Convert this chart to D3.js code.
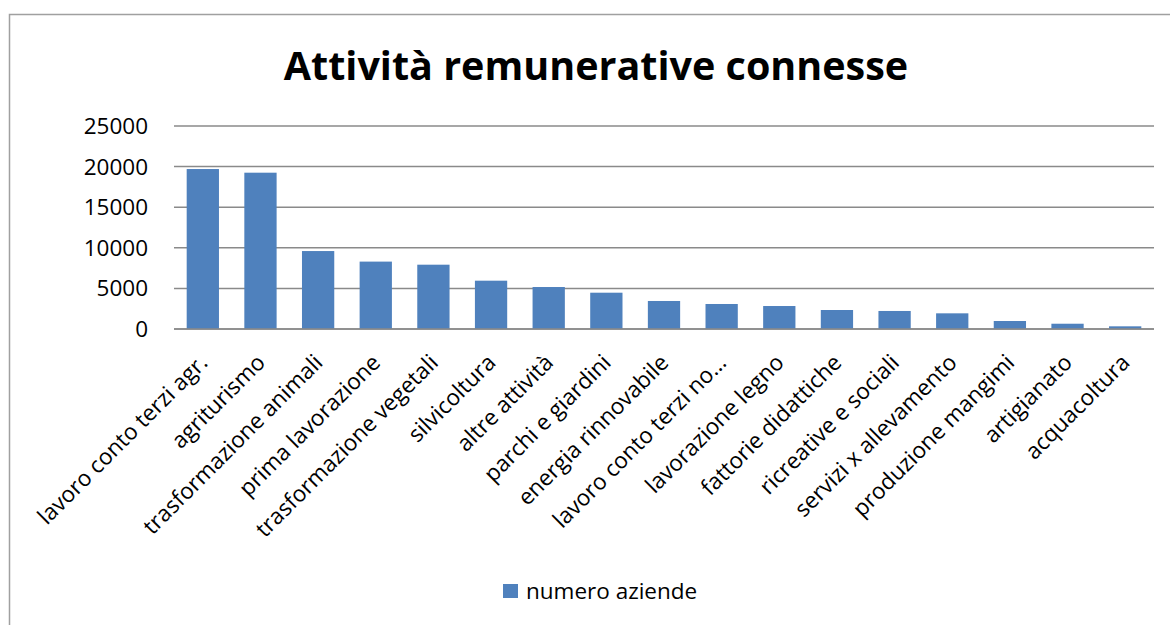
<!DOCTYPE html>
<html>
<head>
<meta charset="utf-8">
<script src="https://cdn.jsdelivr.net/npm/d3@7"></script>
<style>
  body { margin: 0; background: #fff; }
  svg { display: block; font-family: 'Open Sans', sans-serif; }
</style>
</head>
<body>
<div id="root"></div>
<script>
const categories = ['lavoro conto terzi agr.', 'agriturismo', 'trasformazione animali', 'prima lavorazione',
  'trasformazione vegetali', 'silvicoltura', 'altre attività', 'parchi e giardini', 'energia rinnovabile',
  'lavoro conto terzi no…', 'lavorazione legno', 'fattorie didattiche', 'ricreative e sociali',
  'servizi x allevamento', 'produzione mangimi', 'artigianato', 'acquacoltura'];
const values = [19700, 19250, 9600, 8300, 7920, 5950, 5170, 4470, 3450, 3080, 2830, 2340, 2220, 1930, 985, 650, 330];
const yTicks = [0, 5000, 10000, 15000, 20000, 25000];
const seriesName = 'numero aziende';
const title = 'Attività remunerative connesse';

const width = 1170, height = 625;
const plot = {left: 174, right: 1154, top: 126, bottom: 329};
const barColor = '#4f81bd';
const gridColor = '#8a8a8a';

const svg = d3.select('#root').append('svg')
              .attr('width', width)
              .attr('height', height);

// chart frame (runs off the right and bottom edges)
svg.append('rect')
   .attr('x', 9.5).attr('y', 14.5)
   .attr('width', 1170).attr('height', 700)
   .attr('fill', '#fff')
   .attr('stroke', '#a0a0a0')
   .attr('stroke-width', 1.5);

svg.append('text')
   .text(title)
   .attr('x', 596)
   .attr('y', 80)
   .attr('text-anchor', 'middle')
   .style('font-size', '39.5px')
   .style('font-weight', 700)
   .attr('fill', '#000');

const x = d3.scaleBand()
            .domain(categories)
            .range([plot.left, plot.right])
            .paddingInner(0.44)
            .paddingOuter(0.22);

const y = d3.scaleLinear()
            .domain([0, 25000])
            .range([plot.bottom, plot.top]);

// gridlines
svg.append('g')
   .selectAll('line')
   .data(yTicks).enter()
   .append('line')
   .attr('x1', plot.left).attr('x2', plot.right)
   .attr('y1', d => y(d)).attr('y2', d => y(d))
   .attr('stroke', gridColor)
   .attr('stroke-width', 1.5);

// y labels
svg.append('g')
   .selectAll('text')
   .data(yTicks).enter()
   .append('text')
   .text(d => d)
   .attr('x', 148)
   .attr('y', d => y(d) + 8)
   .attr('text-anchor', 'end')
   .style('font-size', '22.5px')
   .attr('fill', '#000');

// bars
svg.append('g')
   .selectAll('rect')
   .data(values).enter()
   .append('rect')
   .attr('x', (d, i) => x(categories[i]))
   .attr('width', x.bandwidth())
   .attr('y', d => y(d))
   .attr('height', d => y(0) - y(d))
   .attr('fill', barColor);

// x axis line on top of bars
svg.append('line')
   .attr('x1', plot.left).attr('x2', plot.right)
   .attr('y1', y(0)).attr('y2', y(0))
   .attr('stroke', gridColor)
   .attr('stroke-width', 1.5);

// rotated category labels
svg.append('g')
   .selectAll('text')
   .data(categories).enter()
   .append('text')
   .text(d => d)
   .attr('text-anchor', 'end')
   .attr('transform', d => `translate(${x(d) + x.bandwidth() / 2 + 6},364) rotate(-45)`)
   .style('font-size', '22.5px')
   .attr('fill', '#000');

// legend
const legend = svg.append('g').attr('transform', 'translate(503,584)');
legend.append('rect')
      .attr('width', 15).attr('height', 14)
      .attr('fill', barColor);
legend.append('text')
      .text(seriesName)
      .attr('x', 23)
      .attr('y', 15)
      .style('font-size', '22.5px')
      .attr('fill', '#000');
</script>
</body>
</html>
